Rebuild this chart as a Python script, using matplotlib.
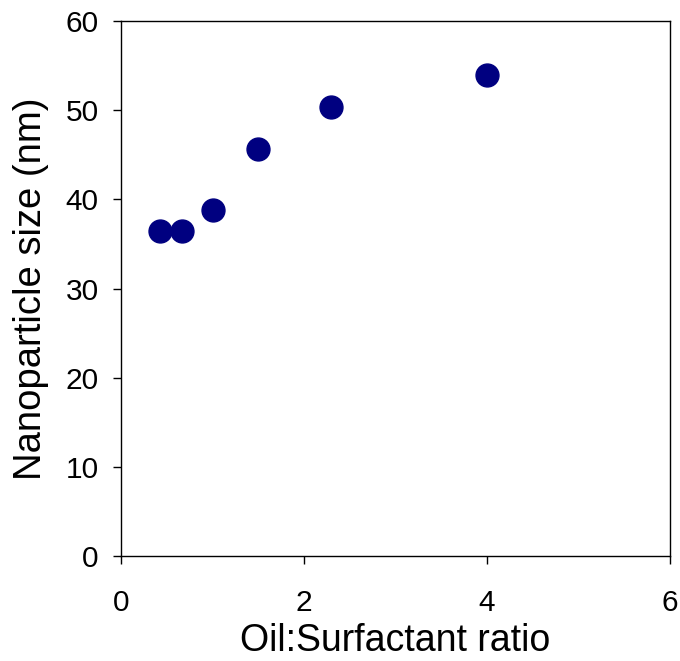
import matplotlib
matplotlib.use("Agg")
import matplotlib.pyplot as plt

ratio = [0.43, 0.67, 1.0, 1.5, 2.3, 4.0]
size_nm = [36.4, 36.4, 38.8, 45.7, 50.3, 54.0]
xticks = [0, 2, 4, 6]
yticks = [0, 10, 20, 30, 40, 50, 60]

plt.rcParams['font.family'] = ['Liberation Sans', 'DejaVu Sans']

fig = plt.figure(figsize=(6.8, 6.61), dpi=100)
ax = fig.add_axes([121/680, 1-556/661, (670-121)/680, (556-21)/661])
ax.plot(ratio, size_nm, linestyle='none', marker='o', markersize=16.5,
        color='#000080', markeredgecolor='#000080')
ax.set_xlim(0, 6)
ax.set_ylim(0, 60)
ax.set_xticks(xticks)
ax.set_yticks(yticks)
ax.tick_params(direction='out', length=6, width=1, labelsize=21.5)
ax.tick_params(axis='x', pad=18)
ax.tick_params(axis='y', pad=10)
for s in ax.spines.values():
    s.set_linewidth(1)
ax.set_xlabel('Oil:Surfactant ratio', fontsize=27, labelpad=4)
ax.set_ylabel('Nanoparticle size (nm)', fontsize=27.5, labelpad=12)
fig.savefig('out.png', dpi=100)
